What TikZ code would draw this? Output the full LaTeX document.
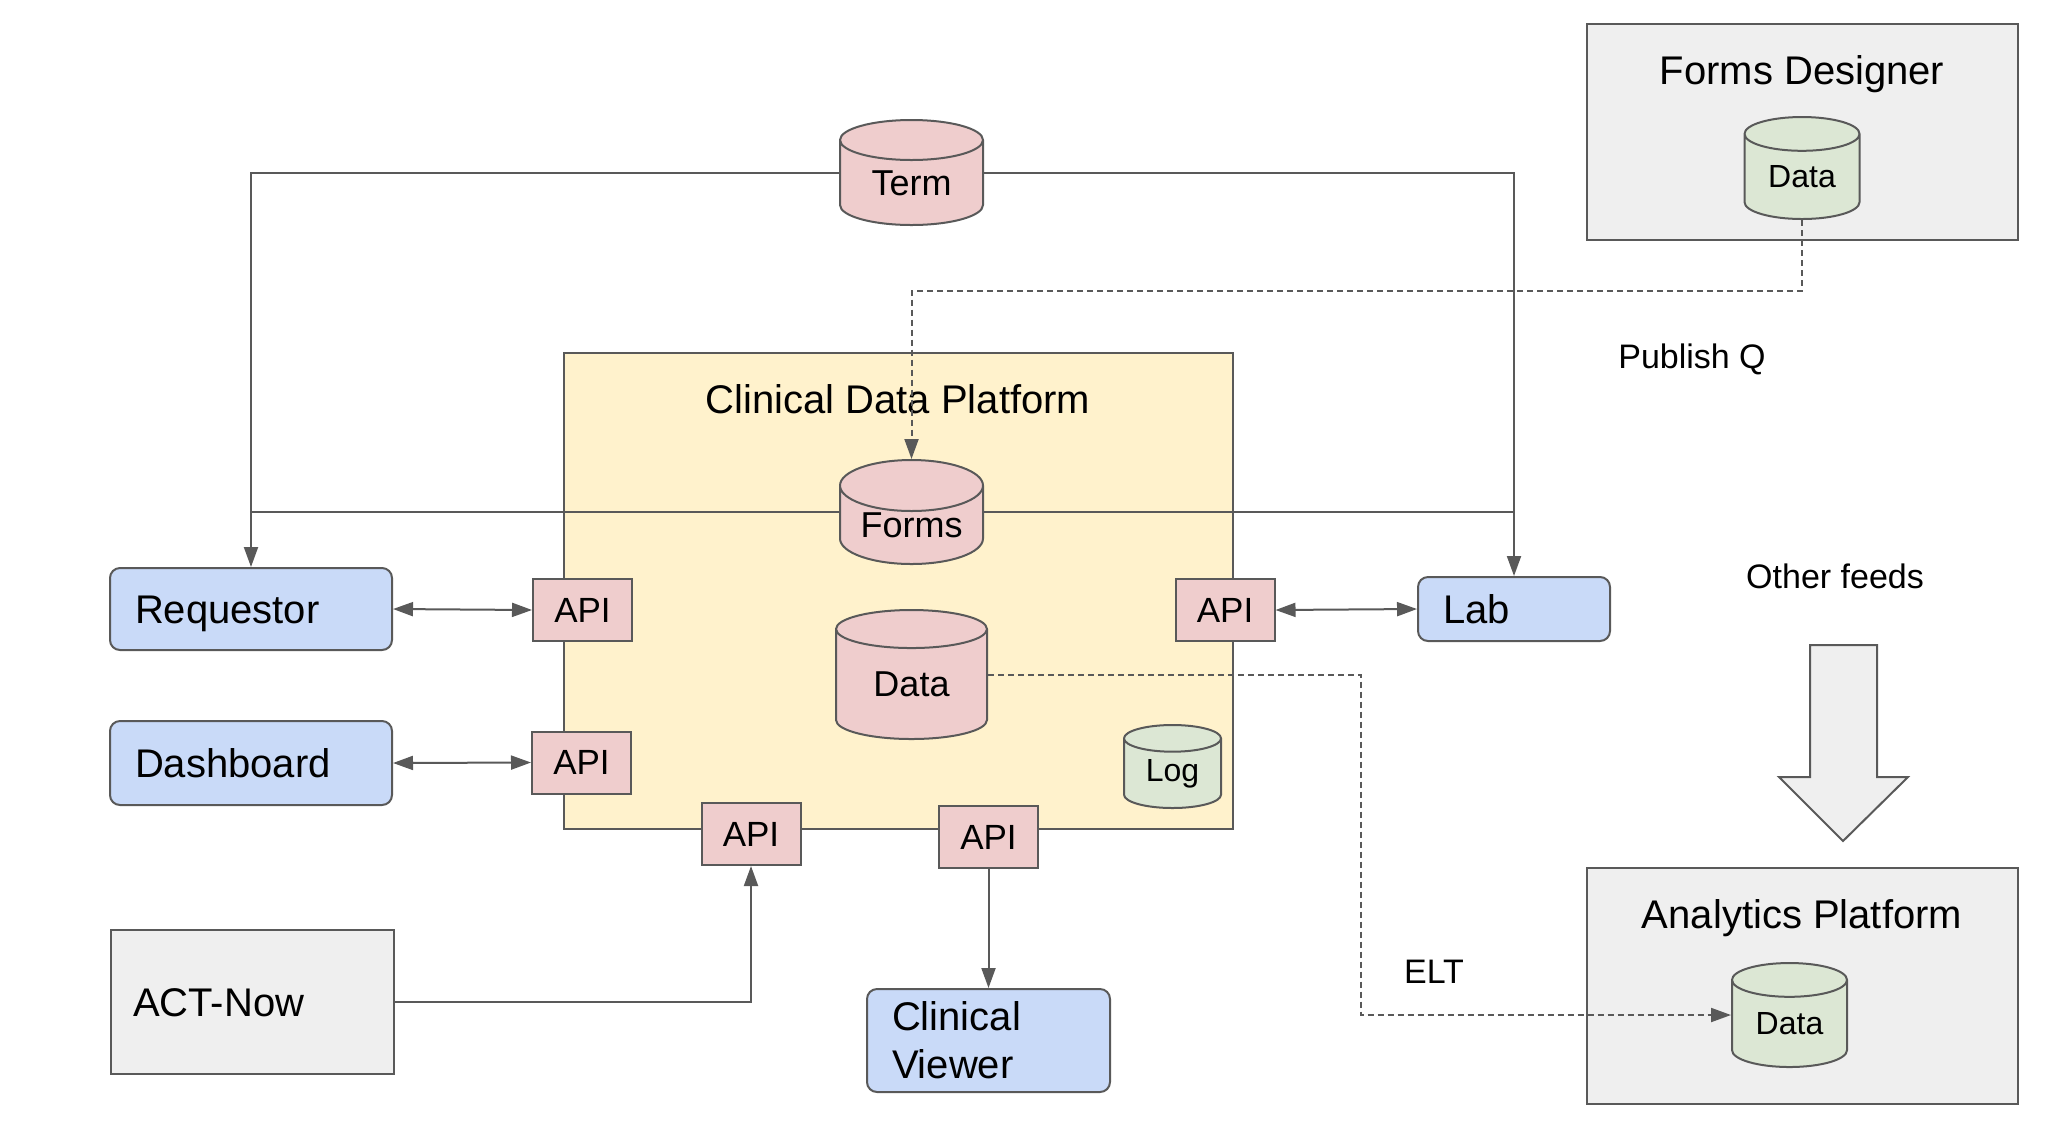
\documentclass[tikz,border=0pt]{standalone}
\usepackage{fontspec}
\setmainfont{Liberation Sans}
\usetikzlibrary{shapes.geometric,arrows.meta,positioning}
\definecolor{linegray}{HTML}{595959}
\definecolor{storered}{HTML}{EFCDCD}
\definecolor{storegreen}{HTML}{DCE7D4}
\definecolor{clientblue}{HTML}{C9DAF8}
\definecolor{platformyellow}{HTML}{FFF2CC}
\definecolor{panelgray}{HTML}{EFEFEF}
\begin{document}
\begin{tikzpicture}[x=0.5pt,y=-0.5pt,
    base/.style={draw=linegray,line width=1pt},
    store/.style={base,cylinder,shape border rotate=90,aspect=0.5,inner sep=0pt,
        anchor=shape center,font=\fontsize{18}{21}\selectfont},
    redstore/.style={store,fill=storered},
    greenstore/.style={store,fill=storegreen,font=\fontsize{16}{19}\selectfont},
    api/.style={base,fill=storered,minimum width=49.5pt,minimum height=31pt,
        inner sep=0pt,font=\fontsize{17.5}{20}\selectfont},
    client/.style={base,fill=clientblue,rounded corners=5pt,align=left,
        inner xsep=12.5pt,inner ysep=0pt,font=\fontsize{20}{24}\selectfont},
    capmid/.style={text height=14.3pt,text depth=0pt},
    panel/.style={base,inner sep=0pt},
    title/.style={anchor=base,font=\fontsize{20}{24}\selectfont},
    caption/.style={anchor=base,font=\fontsize{17}{20}\selectfont},
    link/.style={draw=linegray,line width=1pt,-{Triangle[length=10pt,width=7pt]}},
    twoway/.style={link,{Triangle[length=10pt,width=7pt]}-{Triangle[length=10pt,width=7pt]}},
    feed/.style={link,dash pattern=on 3pt off 2pt}]
    \useasboundingbox (0,0) rectangle (2048,1142);
    % panels
    \node[panel,fill=platformyellow,minimum width=334.5pt,minimum height=238pt] (cdp) at (898.5,591) {};
    \node[title] at (898,413) {Clinical Data Platform};
    \node[panel,fill=panelgray,minimum width=215.5pt,minimum height=108pt] (fdbox) at (1802.5,132) {};
    \node[title] at (1802,84) {Forms Designer};
    \node[panel,fill=panelgray,minimum width=215.5pt,minimum height=118pt] (apbox) at (1802.5,986) {};
    \node[title] at (1802,928) {Analytics Platform};
    % stores
    \node[redstore,minimum width=71.5pt,minimum height=52.5pt] (term) at (911.5,172.5) {Term};
    \node[redstore,minimum width=71.5pt,minimum height=52pt] (forms) at (911.5,512) {Forms};
    \node[redstore,minimum width=75.5pt,minimum height=64.5pt] (cdata) at (911.5,674.5) {Data};
    \node[greenstore,minimum width=48.5pt,minimum height=41.5pt] (log) at (1172.5,766.5) {Log};
    \node[greenstore,minimum width=57.5pt,minimum height=51pt] (fddata) at (1802,168) {Data};
    \node[greenstore,minimum width=57.5pt,minimum height=52pt] (apdata) at (1789.5,1015) {Data};
    % interfaces
    \node[api] (apireq) at (582.5,610) {API};
    \node[api] (apidash) at (581.5,762.5) {API};
    \node[api] (apiact) at (751,834) {API};
    \node[api] (apiview) at (988.5,837) {API};
    \node[api] (apilab) at (1225,610) {API};
    % clients
    \node[client,capmid,text width=116pt,minimum height=41pt] (req) at (251,609) {Requestor};
    \node[client,capmid,text width=116pt,minimum height=42pt] (dash) at (251,763) {Dashboard};
    \node[client,capmid,text width=71pt,minimum height=32pt] (lab) at (1514,609) {Lab};
    \node[client,text width=96.5pt,minimum height=51.5pt] (viewer) at (988.5,1040.5) {Clinical\\Viewer};
    \node[base,capmid,fill=panelgray,align=left,text width=119.5pt,inner xsep=11pt,minimum height=72pt,
        font=\fontsize{20}{24}\selectfont] (act) at (252.5,1002) {ACT-Now};
    % captions
    \node[caption] (pubq) at (1692,368) {Publish Q};
    \node[caption] (other) at (1835,588) {Other feeds};
    \node[caption] (elt) at (1434,983.5) {ELT};
    % connectors
    \draw[link] (term.shape center -| term.west) -| (req.north);
    \draw[link] (term.shape center -| term.east) -| (lab.north);
    \draw[base] (forms.shape center -| forms.west) -- (forms.shape center -| req.north);
    \draw[base] (forms.shape center -| forms.east) -- (forms.shape center -| lab.north);
    \draw[feed] (fddata.south) -- ++(0,71) -| (forms.north);
    \draw[feed] (cdata.shape center -| cdata.east) -- ++(373,0) |- (apdata.shape center -| apdata.west);
    \draw[twoway] (req.east) -- (apireq.west);
    \draw[twoway] (dash.east) -- (apidash.west);
    \draw[twoway] (apilab.east) -- (lab.west);
    \draw[link] (act.east) -| (apiact.south);
    \draw[link] (apiview.south) -- (viewer.north);
    % other feeds arrow
    \draw[base,fill=panelgray] (1810,645) -- (1877,645) -- (1877,777) -- (1908,777)
        -- (1843,841) -- (1779,777) -- (1810,777) -- cycle;
\end{tikzpicture}
\end{document}
